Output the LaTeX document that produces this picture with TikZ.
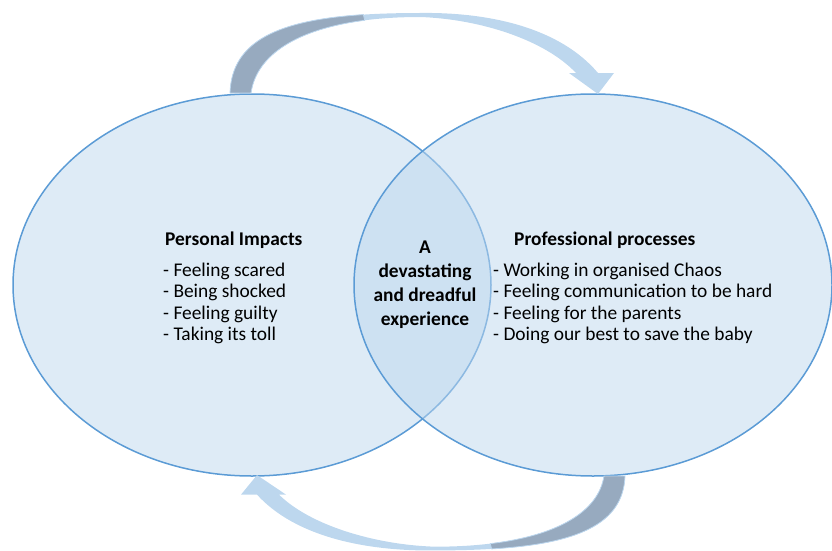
\documentclass[tikz,border=0pt]{standalone}
\usepackage{fontspec}
\setmainfont{Carlito}
\usetikzlibrary{shapes.geometric}

\definecolor{circfill}{HTML}{BDD7EE}
\definecolor{circline}{HTML}{5B9BD5}
\definecolor{ribbonlight}{HTML}{BDD7EE}
\definecolor{ribbondark}{HTML}{97AABF}

\tikzset{
  venn/.style={ellipse, draw=circline, line width=1.5pt, fill=circfill,
    fill opacity=0.5, text opacity=1, inner sep=0,
    minimum width=478pt, minimum height=382pt},
  heading/.style={anchor=base west, inner sep=0,
    font=\fontsize{19.4}{21.5}\selectfont\bfseries},
  item/.style={anchor=base west, inner sep=0,
    font=\fontsize{19.4}{21.5}\selectfont},
}

% curved ribbon arrow, drawn in pixel units
\newcommand{\loopribbon}{%
  \fill[ribbonlight] (230,93) .. controls (232,30) and (300,13) .. (420,13)
    .. controls (490,12) and (560,28) .. (598,73) -- (614,73) -- (598,94)
    -- (569,73) -- (576,73) .. controls (545,40) and (480,19) .. (420,17)
    .. controls (320,17) and (258,45) .. (251,93) -- cycle;
  \filldraw[fill=ribbondark, draw=ribbonlight, line width=0.8pt]
    (230,93) .. controls (231.7,40.7) and (278.8,20.1) .. (363.4,14.6)
    -- (364.7,20.3) .. controls (297.4,29.0) and (256.6,54.6) .. (251,93) -- cycle;
}

\begin{document}
\begin{tikzpicture}[x=1pt, y=-1pt]
  \useasboundingbox (0,0) rectangle (832,551);

  \node[venn] (personal) at (252,285) {};
  \node[venn] (professional) at (593,285) {};

  % arrows between the two circles
  \loopribbon
  \begin{scope}[shift={(855,562.5)}, xscale=-1, yscale=-0.93]
    \loopribbon
  \end{scope}

  \node[heading] (personalhead) at (165,245) {Personal Impacts};
  \node[item] (pi1) at (163,276) {- Feeling scared};
  \node[item] (pi2) at ([yshift=-21.5pt]pi1.base west) {- Being shocked};
  \node[item] (pi3) at ([yshift=-21.5pt]pi2.base west) {- Feeling guilty};
  \node[item] (pi4) at ([yshift=-21.5pt]pi3.base west) {- Taking its toll};

  \node[heading] (professionalhead) at (514,245) {Professional processes};
  \node[item] (pp1) at (493,276) {- Working in organised Chaos};
  \node[item] (pp2) at ([yshift=-21.5pt]pp1.base west) {- Feeling communication to be hard};
  \node[item] (pp3) at ([yshift=-21.5pt]pp2.base west) {- Feeling for the parents};
  \node[item] (pp4) at ([yshift=-21.5pt]pp3.base west) {- Doing our best to save the baby};

  \node[align=center, inner sep=0, font=\fontsize{19.4}{24.2}\selectfont\bfseries]
    (core) at (425,284.6) {A\\devastating\\and dreadful\\experience};
\end{tikzpicture}
\end{document}
